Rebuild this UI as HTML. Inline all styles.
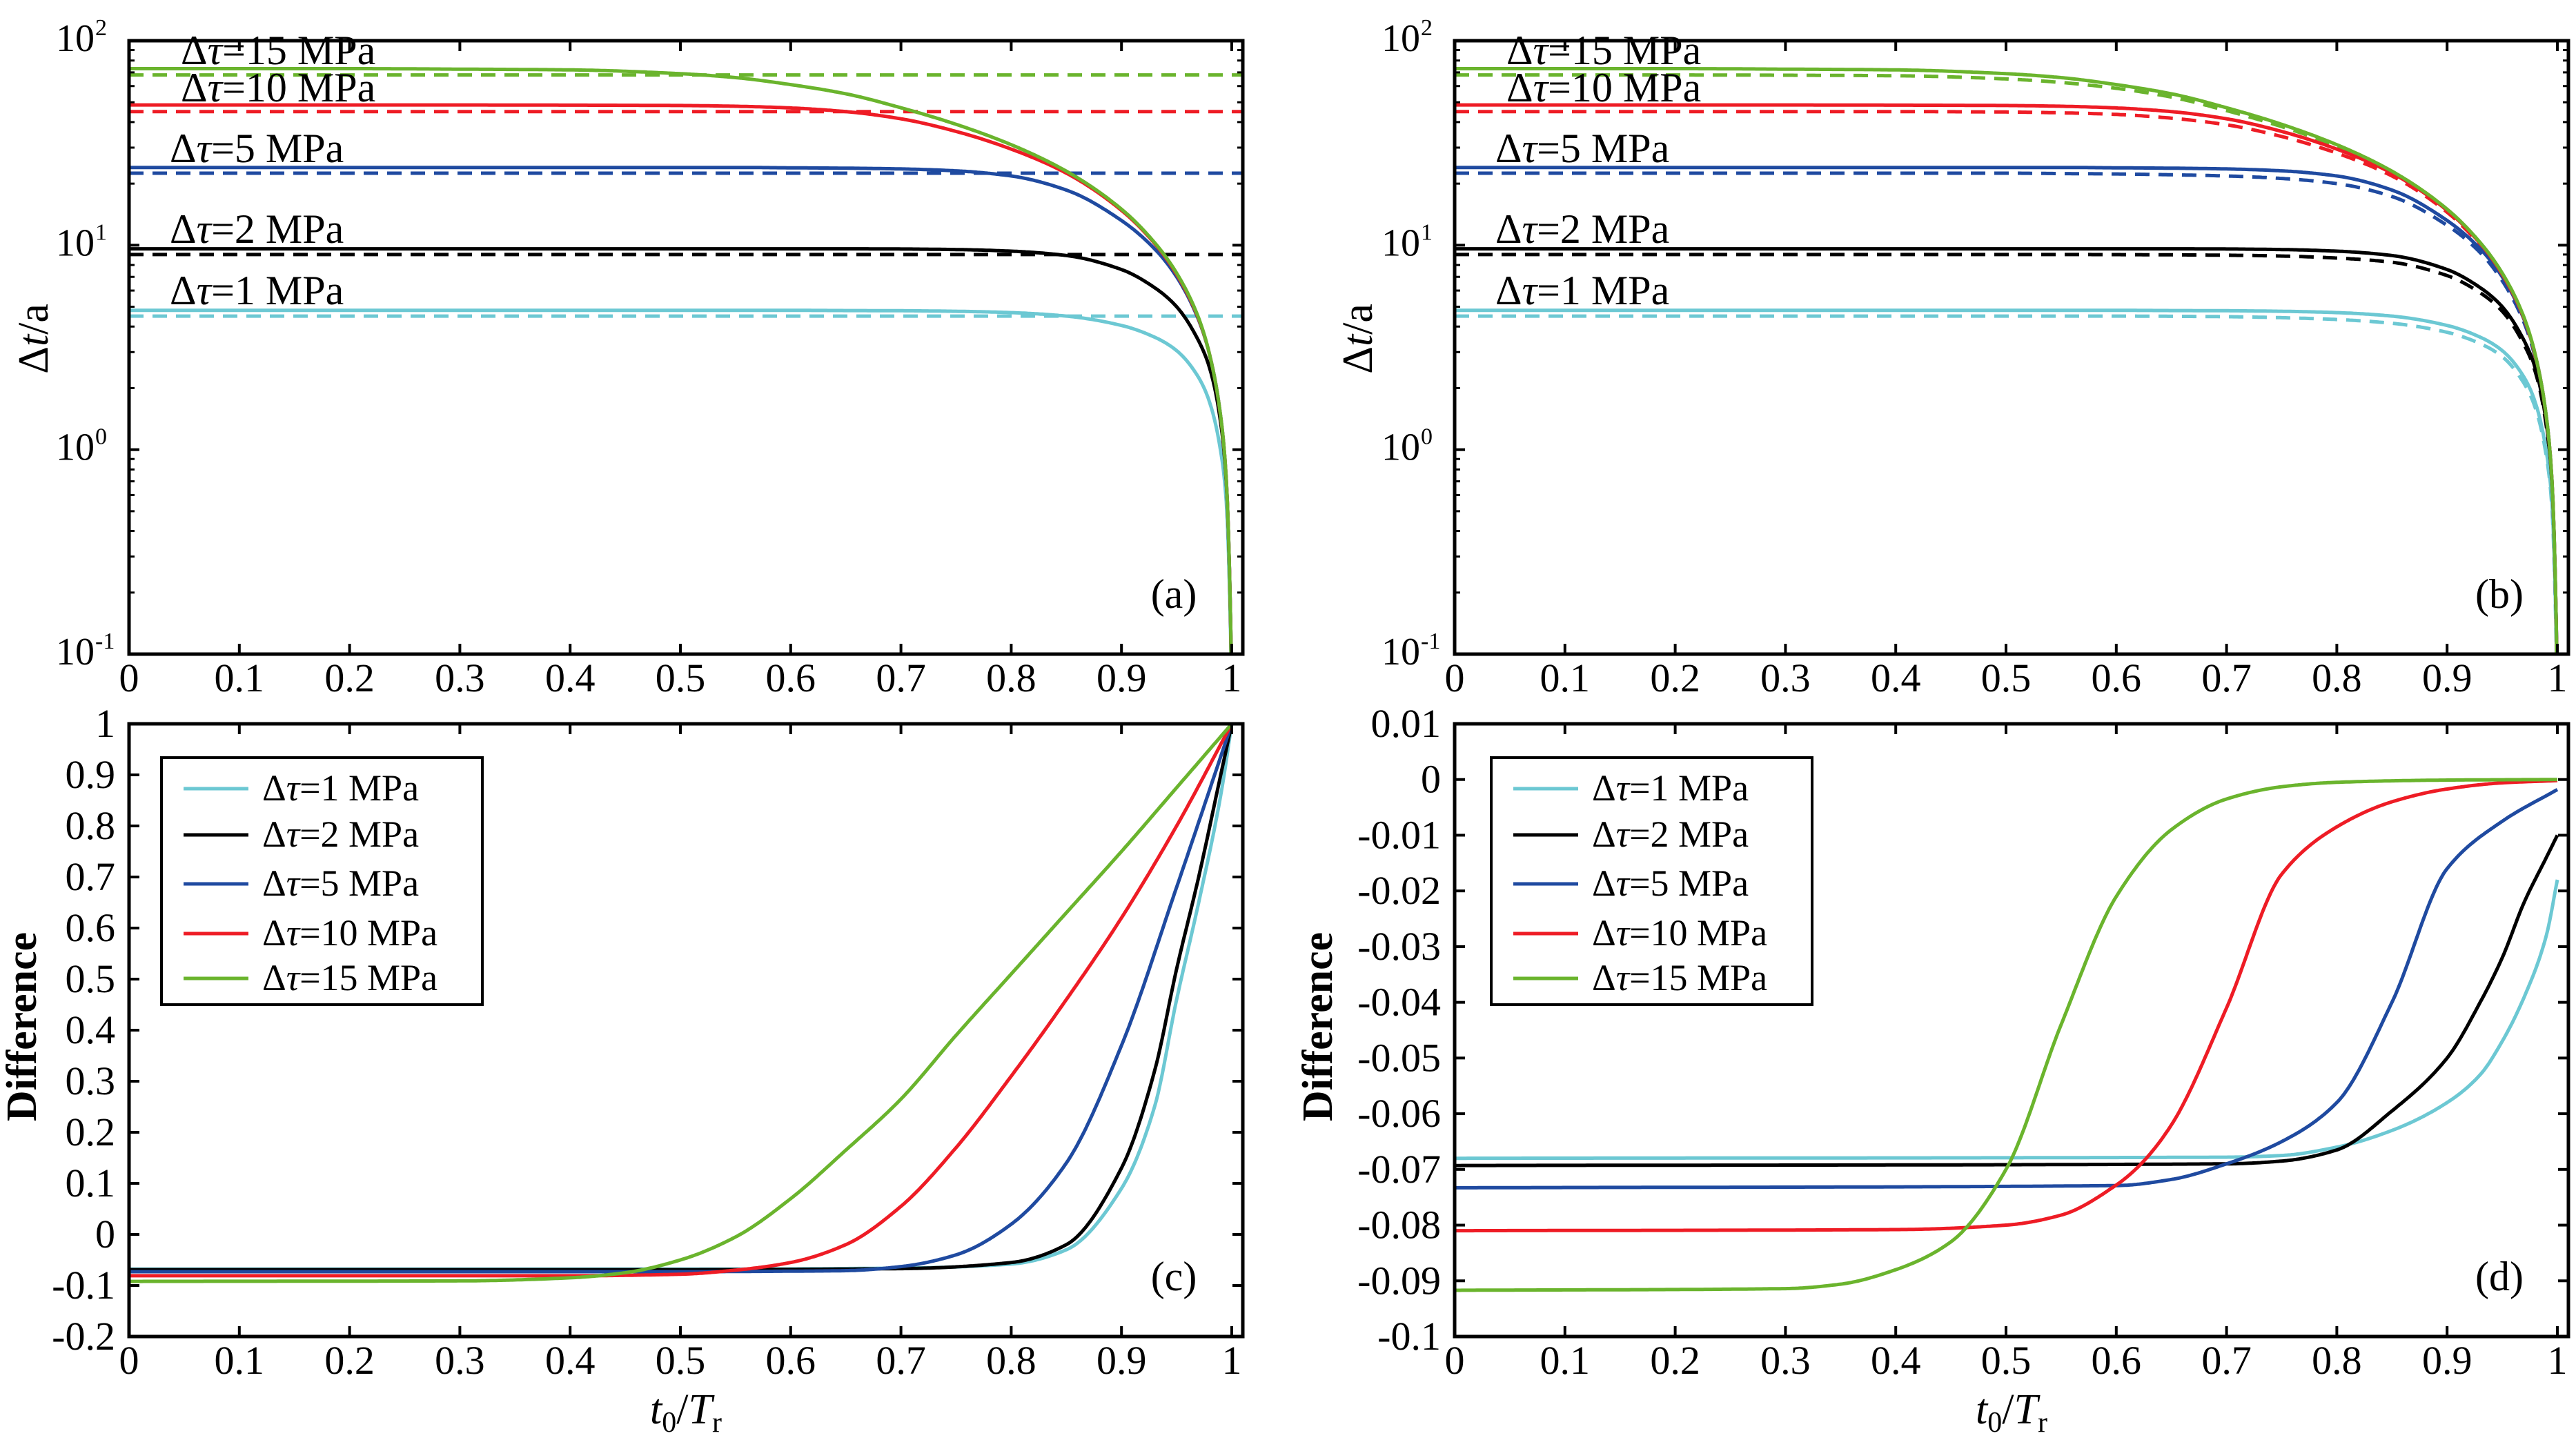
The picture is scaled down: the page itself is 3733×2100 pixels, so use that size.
<!DOCTYPE html>
<html><head><meta charset="utf-8">
<style>
html,body{margin:0;padding:0;background:#fff;}
svg{display:block;font-family:"Liberation Serif",serif;}
</style></head>
<body>
<svg id="fig" width="3733" height="2100" viewBox="0 0 3733 2100" xmlns="http://www.w3.org/2000/svg">
<rect x="0" y="0" width="3733" height="2100" fill="#fff"/>
</svg>
<script>
// ---------- data ----------
const seriesNames = ["Δτ=1 MPa","Δτ=2 MPa","Δτ=5 MPa","Δτ=10 MPa","Δτ=15 MPa"];
const seriesColors = ["#6cc8d3","#000000","#1f4aa0","#ee1c25","#6ab42d"];
const seriesKeys = ["dt1","dt2","dt5","dt10","dt15"];

// panels (a)/(b): shared x grid t0/Tr
const gridX = [0,0.1,0.2,0.3,0.4,0.5,0.55,0.6,0.65,0.7,0.75,0.8,0.85,0.9,0.93,0.95,0.97,0.98,0.99,0.995,0.999,1];
const solidCyan  = [4.8,4.8,4.8,4.8,4.8,4.8,4.8,4.8,4.79,4.78,4.75,4.68,4.5,4.05,3.55,3.05,2.25,1.7,0.98,0.56,0.12,0.05];
const solidBlack = [9.6,9.6,9.6,9.6,9.6,9.6,9.6,9.6,9.6,9.58,9.52,9.35,8.9,7.6,6.2,5.0,3.4,2.5,1.35,0.7,0.14,0.05];
const solidBlue  = [24,24,24,24,24,24,24,23.9,23.8,23.6,23.1,21.8,18.6,13.2,9.6,7.0,4.3,2.9,1.45,0.72,0.14,0.05];
const solidRed   = [48.5,48.5,48.5,48.5,48.4,48.2,47.8,46.9,45.0,41.5,36.0,29.5,22.5,14.8,10.2,7.2,4.35,2.9,1.44,0.72,0.14,0.05];
const solidGreen = [73,73,73,72.6,72,69,66,61,55,47,39,31,23,15,10.3,7.3,4.4,2.9,1.45,0.72,0.14,0.05];
// (a) dashed: constant approximations
const flatValues = [4.5,9.0,22.5,45,68];
// (b) dashed
const dashCyan  = [4.5,4.5,4.5,4.5,4.5,4.5,4.5,4.5,4.49,4.47,4.42,4.33,4.15,3.75,3.3,2.85,2.1,1.6,0.93,0.53,0.11,0.05];
const dashBlack = [9.0,9.0,9.0,9.0,9.0,9.0,9.0,8.99,8.97,8.93,8.85,8.65,8.25,7.1,5.85,4.75,3.25,2.4,1.3,0.68,0.13,0.05];
const dashBlue  = [22.5,22.5,22.5,22.5,22.5,22.5,22.4,22.3,22.1,21.8,21.2,20.0,17.3,12.5,9.2,6.7,4.15,2.8,1.4,0.7,0.13,0.05];
const dashRed   = [45,45,45,45,45,44.8,44.4,43.6,41.8,38.8,34,28.2,21.8,14.5,10,7.1,4.3,2.85,1.42,0.71,0.13,0.05];
const dashGreen = [68,68,68,67.8,67.4,65,62.5,58.5,53,45.5,38,30.5,22.7,14.8,10.2,7.2,4.35,2.9,1.44,0.72,0.13,0.05];

// panel (c)
const cXCyan = [0,0.5,0.7,0.8,0.85,0.9,0.93,0.95,0.97,0.99,1];
const cYCyan = [-0.068,-0.068,-0.066,-0.058,-0.03,0.09,0.25,0.46,0.65,0.86,1];
const cXBlack = [0,0.5,0.7,0.8,0.85,0.9,0.93,0.95,0.97,0.99,1];
const cYBlack = [-0.069,-0.069,-0.067,-0.055,-0.02,0.13,0.32,0.52,0.7,0.9,1];
const cXBlue = [0,0.5,0.6,0.65,0.7,0.75,0.8,0.85,0.9,0.95,1];
const cYBlue = [-0.073,-0.073,-0.072,-0.071,-0.063,-0.04,0.02,0.14,0.37,0.68,1];
const cXRed = [0,0.4,0.5,0.55,0.6,0.65,0.7,0.75,0.8,0.85,0.9,0.95,1];
const cYRed = [-0.081,-0.081,-0.078,-0.07,-0.055,-0.02,0.055,0.17,0.31,0.46,0.62,0.8,1];
const cXGreen = [0,0.3,0.4,0.45,0.5,0.55,0.6,0.65,0.7,0.75,0.8,0.85,0.9,0.95,1];
const cYGreen = [-0.092,-0.091,-0.085,-0.075,-0.05,-0.005,0.07,0.165,0.265,0.39,0.51,0.63,0.75,0.875,1];

// panel (d)
const dXCyan = [0,0.7,0.75,0.8,0.85,0.9,0.93,0.95,0.97,0.99,1];
const dYCyan = [-0.068,-0.0678,-0.0675,-0.066,-0.063,-0.058,-0.053,-0.047,-0.039,-0.028,-0.018];
const dXBlack = [0,0.7,0.75,0.8,0.85,0.9,0.93,0.95,0.97,0.99,1];
const dYBlack = [-0.0693,-0.069,-0.0685,-0.0665,-0.0595,-0.050,-0.040,-0.032,-0.022,-0.014,-0.010];
const dXBlue = [0,0.6,0.65,0.7,0.75,0.8,0.85,0.9,0.95,1];
const dYBlue = [-0.0733,-0.0729,-0.0718,-0.069,-0.065,-0.058,-0.04,-0.016,-0.0075,-0.0018];
const dXRed = [0,0.4,0.5,0.55,0.6,0.62,0.65,0.7,0.75,0.8,0.85,0.9,0.95,1];
const dYRed = [-0.081,-0.0808,-0.0800,-0.0782,-0.0728,-0.0695,-0.062,-0.041,-0.017,-0.0085,-0.004,-0.0017,-0.0006,-0.0002];
const dXGreen = [0,0.3,0.35,0.4,0.45,0.5,0.55,0.6,0.65,0.7,0.75,0.8,0.9,1];
const dYGreen = [-0.0917,-0.0914,-0.0906,-0.0880,-0.0830,-0.070,-0.044,-0.021,-0.009,-0.0035,-0.0013,-0.0005,-0.0001,0];

const xTicks = [0,0.1,0.2,0.3,0.4,0.5,0.6,0.7,0.8,0.9,1];
const xTickLabels = ["0","0.1","0.2","0.3","0.4","0.5","0.6","0.7","0.8","0.9","1"];
const logTicks = [-1,0,1,2];
const logTickLabels = ["-1","0","1","2"];
const cTicks = [-0.2,-0.1,0,0.1,0.2,0.3,0.4,0.5,0.6,0.7,0.8,0.9,1];
const cTickLabels = ["-0.2","-0.1","0","0.1","0.2","0.3","0.4","0.5","0.6","0.7","0.8","0.9","1"];
const dTicks = [-0.1,-0.09,-0.08,-0.07,-0.06,-0.05,-0.04,-0.03,-0.02,-0.01,0,0.01];
const dTickLabels = ["-0.1","-0.09","-0.08","-0.07","-0.06","-0.05","-0.04","-0.03","-0.02","-0.01","0","0.01"];

// ---------- drawing ----------
const NS = "http://www.w3.org/2000/svg";
const svg = document.getElementById("fig");
function mk(tag, attrs, parent){
  const e = document.createElementNS(NS, tag);
  for (const k in attrs) e.setAttribute(k, attrs[k]);
  (parent||svg).appendChild(e);
  return e;
}
function txt(s, attrs, parent){ const t = mk("text", attrs, parent); t.textContent = s; return t; }

function makePanel(id, left, top, bottom, yMin, yMax, isLog){
  const right = left + 1614;
  const xs = v => left + v * 1598;
  const ys = isLog ? (v => bottom - (v - yMin) / (yMax - yMin) * (bottom - top))
                   : (v => bottom - (v - yMin) / (yMax - yMin) * (bottom - top));
  const g = mk("g", {});
  
  
  const cp = mk("clipPath", {id: "clip-" + id}, g);
  mk("rect", {x:left, y:top, width:right-left, height:bottom-top}, cp);
  return {id, left, right, top, bottom, xs, ys, g, isLog};
}

// monotone cubic (Fritsch-Carlson) sampling
function monotone(xa, ya, n){
  const m = xa.length, d = [], s = [];
  for (let i=0;i<m-1;i++) d.push((ya[i+1]-ya[i])/(xa[i+1]-xa[i]));
  s[0] = d[0]; s[m-1] = d[m-2];
  for (let i=1;i<m-1;i++){
    if (d[i-1]*d[i] <= 0) s[i] = 0;
    else { const w1 = 2*(xa[i+1]-xa[i]) + (xa[i]-xa[i-1]), w2 = (xa[i+1]-xa[i]) + 2*(xa[i]-xa[i-1]);
      s[i] = (w1+w2)/(w1/d[i-1] + w2/d[i]); }
  }
  const out = [];
  for (let i=0;i<m-1;i++){
    const h = xa[i+1]-xa[i];
    const steps = Math.max(4, Math.ceil(h*n));
    for (let k=(i===0?0:1);k<=steps;k++){
      const t = k/steps, t2=t*t, t3=t2*t;
      const y = (2*t3-3*t2+1)*ya[i] + (t3-2*t2+t)*h*s[i] + (-2*t3+3*t2)*ya[i+1] + (t3-t2)*h*s[i+1];
      out.push([xa[i]+t*h, y]);
    }
  }
  return out;
}

function drawSeries(P, xsArr, ysArr, color, dashed, name){
  const yv = P.isLog ? ysArr.map(v=>Math.log10(v)) : ysArr;
  const pts = monotone(xsArr, yv, 600).map(p=>[P.xs(p[0]), P.ys(p[1])]);
  const d = "M" + pts.map(p=>p[0].toFixed(1)+","+p[1].toFixed(1)).join("L");
  const p = mk("path", {d: d, fill:"none", stroke:color, "stroke-width":5, "stroke-linejoin":"round",
    "stroke-dasharray": dashed ? "21 13" : "none", "clip-path":"url(#clip-"+P.id+")"}, P.g);
  
  
}

function drawAxes(P, yTicks, yLabels, xTitle){
  const g = P.g;
  xTicks.forEach((v,i)=>{
    const x = P.xs(v);
    mk("line",{x1:x,y1:P.bottom,x2:x,y2:P.bottom-15,stroke:"#000","stroke-width":4},g);
    mk("line",{x1:x,y1:P.top,x2:x,y2:P.top+15,stroke:"#000","stroke-width":4},g);
    const t = txt(xTickLabels[i],{x:x,y:P.bottom+54,"font-size":58,"text-anchor":"middle"},g);
    
    
  });
  if (P.isLog){
    logTicks.forEach((v,i)=>{
      const y = P.ys(v);
      mk("line",{x1:P.left,y1:y,x2:P.left+15,y2:y,stroke:"#000","stroke-width":4},g);
      mk("line",{x1:P.right,y1:y,x2:P.right-15,y2:y,stroke:"#000","stroke-width":4},g);
      if (i < logTicks.length-1){
        for (let m=2;m<=9;m++){
          const yy = P.ys(v + Math.log10(m));
          mk("line",{x1:P.left,y1:yy,x2:P.left+8,y2:yy,stroke:"#000","stroke-width":3},g);
          mk("line",{x1:P.right,y1:yy,x2:P.right-8,y2:yy,stroke:"#000","stroke-width":3},g);
        }
      }
      const t = txt("10",{x:P.left-50,y:y+15,"font-size":56,"text-anchor":"end"},g);
      
      
      const s = txt(logTickLabels[i],{x:P.left-49,y:y-8,"font-size":34,"text-anchor":"start"},g);
      
      
    });
  } else {
    yTicks.forEach((v,i)=>{
      const y = P.ys(v);
      mk("line",{x1:P.left,y1:y,x2:P.left+15,y2:y,stroke:"#000","stroke-width":4},g);
      mk("line",{x1:P.right,y1:y,x2:P.right-15,y2:y,stroke:"#000","stroke-width":4},g);
      const t = txt(yLabels[i],{x:P.left-20,y:y+19,"font-size":58,"text-anchor":"end"},g);
      
      
    });
  }
  const f = mk("rect",{x:P.left,y:P.top,width:P.right-P.left,height:P.bottom-P.top,fill:"none",stroke:"#000","stroke-width":5},g);
  
  
  if (xTitle){
    const cx = (P.left + P.right)/2;
    const t = mk("text",{x:cx,y:2063,"font-size":62,"text-anchor":"middle"},g);
    
    
    t.innerHTML = '<tspan font-style="italic">t</tspan><tspan font-size="42" dy="12">0</tspan><tspan dy="-12">/</tspan><tspan font-style="italic">T</tspan><tspan font-size="42" dy="12">r</tspan>';
  }
}

function panelLetter(P, s){
  const t = txt(s,{x:P.right-100,y:P.bottom-67,"font-size":60,"text-anchor":"middle"},P.g);
  
  
}

function yTitle(P, s, cx, cy, isDt){
  const t = mk("text",{transform:"translate("+cx+","+cy+") rotate(-90)","font-size":62,"text-anchor":"middle","dominant-baseline":"central","font-weight": isDt ? "normal":"bold"},P.g);
  
  
  if (isDt) t.innerHTML = 'Δ<tspan font-style="italic">t</tspan>/a';
  else t.textContent = s;
}

function annotate(P, dx){
  const pos = [[246,441],[246,352],[246,235],[262,147],[262,93]];
  seriesNames.forEach((n,i)=>{
    const t = mk("text",{x:pos[i][0]+dx,y:pos[i][1],"font-size":60},P.g);
    
    
    t.innerHTML = 'Δ<tspan font-style="italic">τ</tspan>=' + n.slice(3);
  });
}

function legend(P, bx){
  const lg = mk("g",{},P.g);
  
  
  mk("rect",{x:bx,y:1098,width:465,height:358,fill:"#fff",stroke:"#000","stroke-width":4},lg);
  const rows = [1143,1210,1281,1353,1418];
  seriesNames.forEach((n,i)=>{
    const e = mk("g",{},lg);
    
    
    mk("line",{x1:bx+32,y1:rows[i],x2:bx+126,y2:rows[i],stroke:seriesColors[i],"stroke-width":5},e);
    const t = mk("text",{x:bx+146,y:rows[i]+17,"font-size":54},e);
    t.innerHTML = 'Δ<tspan font-style="italic">τ</tspan>=' + n.slice(3);
  });
}

// Panel a
const A = makePanel("a", 187, 59, 948, -1, 2, true);
const solids = [solidCyan, solidBlack, solidBlue, solidRed, solidGreen];
const dashes = [dashCyan, dashBlack, dashBlue, dashRed, dashGreen];
const flatX = [0, 1.01];
flatValues.forEach((v,i)=> drawSeries(A, flatX, [v,v], seriesColors[i], true, 'approx-line-a-' + seriesKeys[i]));
solids.forEach((s,i)=> drawSeries(A, gridX, s, seriesColors[i], false, 'curve-a-' + seriesKeys[i]));
drawAxes(A, null, null, false);
annotate(A, 0);
panelLetter(A, "(a)");
yTitle(A, "", 49, 491, true);

// Panel b
const B = makePanel("b", 2108, 59, 948, -1, 2, true);
dashes.forEach((s,i)=> drawSeries(B, gridX, s, seriesColors[i], true, 'approx-curve-b-' + seriesKeys[i]));
solids.forEach((s,i)=> drawSeries(B, gridX, s, seriesColors[i], false, 'curve-b-' + seriesKeys[i]));
drawAxes(B, null, null, false);
annotate(B, 1921);
panelLetter(B, "(b)");
yTitle(B, "", 1968, 491, true);

// Panel c
const C = makePanel("c", 187, 1049, 1937, -0.2, 1, false);
const cX = [cXCyan,cXBlack,cXBlue,cXRed,cXGreen], cY = [cYCyan,cYBlack,cYBlue,cYRed,cYGreen];
cX.forEach((xa,i)=> drawSeries(C, xa, cY[i], seriesColors[i], false, 'diff-curve-c-' + seriesKeys[i]));
drawAxes(C, cTicks, cTickLabels, true);
legend(C, 234);
panelLetter(C, "(c)");
yTitle(C, "Difference", 32, 1488, false);

// Panel d
const D = makePanel("d", 2108, 1049, 1937, -0.1, 0.01, false);
const dX = [dXCyan,dXBlack,dXBlue,dXRed,dXGreen], dY = [dYCyan,dYBlack,dYBlue,dYRed,dYGreen];
dX.forEach((xa,i)=> drawSeries(D, xa, dY[i], seriesColors[i], false, 'diff-curve-d-' + seriesKeys[i]));
drawAxes(D, dTicks, dTickLabels, true);
legend(D, 2161);
panelLetter(D, "(d)");
yTitle(D, "Difference", 1910, 1488, false);
</script>
</body></html>
